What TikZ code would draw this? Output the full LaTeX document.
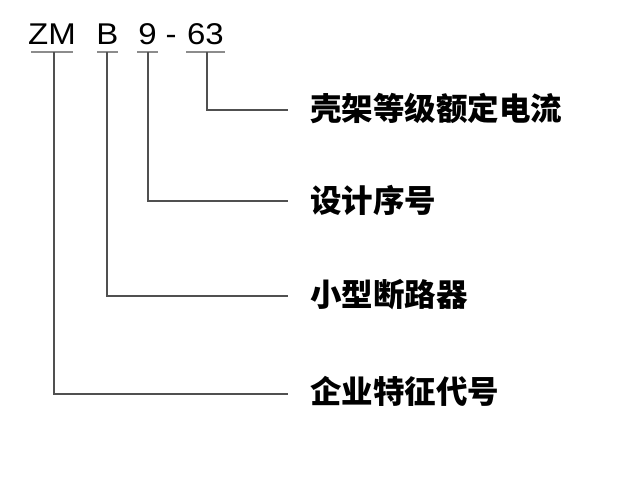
\documentclass[tikz,border=0pt]{standalone}
\usepackage{fontspec}
\setmainfont{Liberation Sans}
\newfontfamily\codefont[FakeStretch=1.1]{Liberation Sans}
\newfontfamily\cjk{Noto Sans CJK SC}
\usetikzlibrary{positioning}
\definecolor{linegray}{HTML}{505050}
\definecolor{ulgray}{HTML}{8C8C8C}
\tikzset{
    code/.style={inner sep=0pt, anchor=base, font=\codefont\fontsize{30}{34}\selectfont},
    label/.style={inner sep=0pt, anchor=west, font=\cjk\bfseries\fontsize{31.5}{36}\selectfont},
    uline/.style={ulgray, line width=1.2pt},
    link/.style={linegray, line width=1.1pt},
}
\begin{document}
    \begin{tikzpicture}[x=1pt, y=-1pt]
        \useasboundingbox (0,0) rectangle (625,499);
        % model code
        \node[code] (zm) at (52,44) {ZM};
        \node[code] (b) at (107.5,44) {B};
        \node[code] (nine) at (147.5,44) {9};
        \node[code] (dash) at (171,44) {-};
        \node[code] (sixtythree) at (205.5,44) {63};
        \draw[uline] (31,52) -- (73,52);
        \draw[uline] (97,52) -- (118,52);
        \draw[uline] (137,52) -- (158,52);
        \draw[uline] (186,52) -- (225,52);
        % taps under the code
        \coordinate (zm-tap) at (54,52);
        \coordinate (b-tap) at (107,52);
        \coordinate (nine-tap) at (148,52);
        \coordinate (sixtythree-tap) at (207,52);
        % ends of the leaders
        \coordinate (current-end) at (288,110);
        \coordinate (design-end) at (288,201);
        \coordinate (mcb-end) at (288,296);
        \coordinate (company-end) at (288,394);
        \node[label, right=22pt of current-end, yshift=2pt] (current) {壳架等级额定电流};
        \node[label, right=22pt of design-end, yshift=1pt] (design) {设计序号};
        \node[label, right=22pt of mcb-end, yshift=1pt] (mcb) {小型断路器};
        \node[label, right=22pt of company-end, yshift=3pt] (company) {企业特征代号};
        \draw[link] (sixtythree-tap) |- (current-end);
        \draw[link] (nine-tap) |- (design-end);
        \draw[link] (b-tap) |- (mcb-end);
        \draw[link] (zm-tap) |- (company-end);
    \end{tikzpicture}
\end{document}
